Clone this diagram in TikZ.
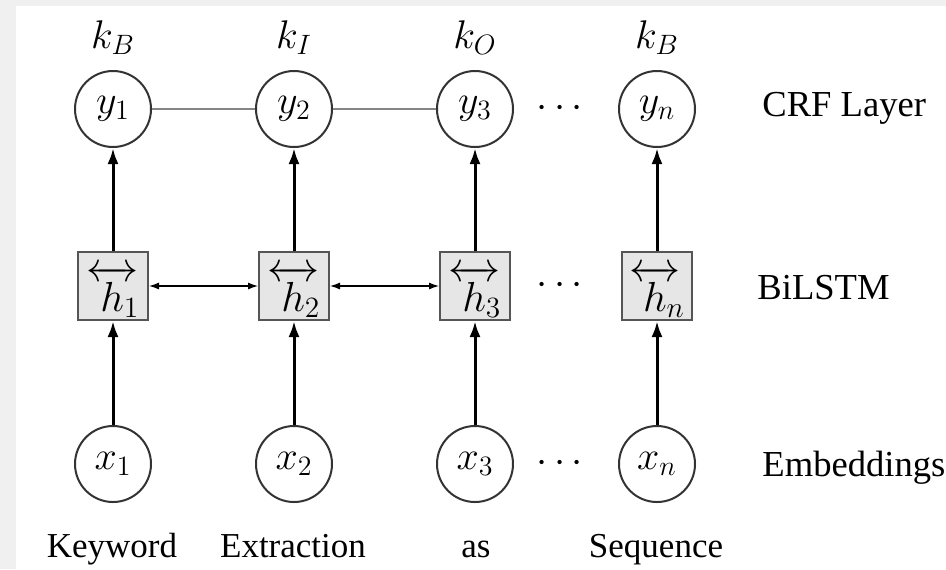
\RequirePackage{fix-cm}
\documentclass[tikz,border=0pt]{standalone}
\usepackage{amsmath}
\usepackage{fontspec}
\setmainfont{Liberation Serif}
\usetikzlibrary{arrows.meta}
\definecolor{bggray}{HTML}{F0F0F0}
\definecolor{boxfill}{HTML}{E6E6E6}
\definecolor{boxline}{HTML}{555555}
\definecolor{circline}{HTML}{333333}
\definecolor{crfline}{HTML}{858585}
\newcommand{\bihraw}[1]{$\overleftrightarrow{h}\mkern-6mu{}_{#1}$}
\newcommand{\bih}[1]{\rlap{\smash{\raisebox{-3pt}{\bihraw{#1}}}}\phantom{\bihraw{#1}}}
\begin{document}
\begin{tikzpicture}[x=0.5pt,y=-0.5pt,
 unit/.style={circle,draw=circline,line width=1pt,minimum size=38pt,inner sep=0pt,font=\fontsize{20}{24}\selectfont},
 hbox/.style={rectangle,draw=boxline,fill=boxfill,line width=1pt,minimum width=35pt,minimum height=34pt,inner sep=0pt,font=\fontsize{21}{25}\selectfont},
 up/.style={line width=1.5pt,-{Latex[length=8pt,width=5.5pt]}},
 lat/.style={line width=0.6pt,{Latex[length=5pt,width=3.5pt]}-{Latex[length=5pt,width=3.5pt]}},
 word/.style={font=\fontsize{17.5}{21}\selectfont,inner sep=0pt},
 side/.style={font=\fontsize{18.3}{22}\selectfont,inner sep=0pt},
 mlab/.style={font=\fontsize{20}{24}\selectfont,inner sep=0pt}]
\fill[bggray] (0,0) rectangle (946,569);
\fill[white] (16,6) rectangle (946,569);
\useasboundingbox (0,0) rectangle (946,569);
% top labels
\node[mlab] (k1) at (113,38) {$k_B$};
\node[mlab] (k2) at (294,38) {$k_I$};
\node[mlab] (k3) at (475,38) {$k_O$};
\node[mlab] (k4) at (657,38) {$k_B$};
% CRF row
\node[unit] (y1) at (113,109) {$y_1$};
\node[unit] (y2) at (294,109) {$y_2$};
\node[unit] (y3) at (475,109) {$y_3$};
\node[mlab] (yd) at (563,109) {$\cdots$};
\node[unit] (yn) at (657,109) {$y_n$};
% BiLSTM row
\node[hbox] (h1) at (113,286) {\bih{1}};
\node[hbox] (h2) at (294,286) {\bih{2}};
\node[hbox] (h3) at (475,286) {\bih{3}};
\node[mlab] (hd) at (563,286) {$\cdots$};
\node[hbox] (hn) at (657,286) {\bih{n}};
% Embedding row
\node[unit] (x1) at (113,464) {$x_1$};
\node[unit] (x2) at (294,464) {$x_2$};
\node[unit] (x3) at (475,464) {$x_3$};
\node[mlab] (xd) at (563,464) {$\cdots$};
\node[unit] (xn) at (657,464) {$x_n$};
% words
\node[word,anchor=base] (w1) at (112,557) {Keyword};
\node[word,anchor=base] (w2) at (293,557) {Extraction};
\node[word,anchor=base] (w3) at (476,557) {as};
\node[word,anchor=base] (w4) at (656,557) {Sequence};
% layer labels
\node[side,anchor=base west] (l1) at (762,116) {CRF Layer};
\node[side,anchor=base west] (l2) at (757,299) {BiLSTM};
\node[side,anchor=base west] (l3) at (762,476) {Embeddings};
% connectors
\draw[crfline,line width=1pt] (y1) -- (y2) (y2) -- (y3);
\draw[lat] (h1) -- (h2);
\draw[lat] (h2) -- (h3);
\foreach \i in {1,2,3,n}{
  \draw[up] (x\i) -- (h\i);
  \draw[up] (h\i) -- (y\i);
}
\end{tikzpicture}
\end{document}
